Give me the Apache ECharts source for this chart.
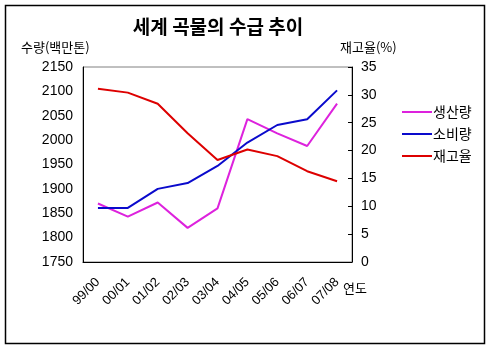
<!DOCTYPE html>
<html><head><meta charset="utf-8">
<script src="https://cdn.jsdelivr.net/npm/echarts@6/dist/echarts.min.js"></script>
<style>html,body{margin:0;padding:0;background:#fff}#c{width:491px;height:350px}</style>
</head><body><div id="c"></div>
<script>
const categories = ['99/00','00/01','01/02','02/03','03/04','04/05','05/06','06/07','07/08'];
const production = [1870, 1843, 1872, 1820, 1860, 2043, 2014, 1988, 2075];
const consumption = [1861, 1861, 1900, 1912, 1947, 1995, 2031, 2043, 2102];
const stockRatio = [31.1, 30.4, 28.4, 23.1, 18.3, 20.2, 19.0, 16.3, 14.5];
const seriesNames = ['생산량', '소비량', '재고율'];
const titleText = '세계 곡물의 수급 추이';
const leftAxisName = '수량(백만톤)';
const rightAxisName = '재고율(%)';
const xAxisName = '연도';

const FONT = '"Liberation Sans", Arial, "Noto Sans CJK KR", sans-serif';
const chart = echarts.init(document.getElementById('c'), null, {renderer:'canvas'});
chart.setOption({
  animation: false,
  backgroundColor: '#fff',
  textStyle: {fontFamily: FONT, color: '#000'},
  grid: {left: 83, top: 67, width: 269, height: 195, show: true, borderColor: '#808080', borderWidth: 1},
  graphic: [
    {type: 'rect', shape: {x: 5.5, y: 5.5, width: 479, height: 338}, style: {fill: 'none', stroke: '#000', lineWidth: 1.5}, silent: true},
    {type: 'text', style: {text: titleText, x: 218, y: 27, align: 'center', verticalAlign: 'middle', font: 'bold 19px "Noto Sans CJK KR", sans-serif', fill: '#000'}},
    {type: 'text', style: {text: leftAxisName, x: 21, y: 47, verticalAlign: 'middle', font: '13px "Noto Sans CJK KR", sans-serif', fill: '#000'}},
    {type: 'text', style: {text: rightAxisName, x: 340, y: 47, verticalAlign: 'middle', font: '13px "Noto Sans CJK KR", sans-serif', fill: '#000'}},
    {type: 'text', style: {text: xAxisName, x: 343, y: 288, verticalAlign: 'middle', font: '13px "Noto Sans CJK KR", sans-serif', fill: '#000'}}
  ],
  legend: {
    orient: 'vertical', left: 397, top: 100, itemWidth: 30, itemHeight: 2, itemGap: 8, icon: 'rect',
    textStyle: {fontSize: 14, fontFamily: '"Noto Sans CJK KR", sans-serif', color: '#000', padding: [0,0,0,-4]},
    data: seriesNames
  },
  xAxis: {
    type: 'category', data: categories, boundaryGap: true,
    axisLine: {lineStyle: {color: '#000', width: 1}},
    axisTick: {inside: true, length: 4, lineStyle: {color: '#000'}},
    axisLabel: {rotate: 45, interval: 0, fontSize: 13, color: '#000', margin: 18, fontFamily: FONT}
  },
  yAxis: [
    {type: 'value', min: 1750, max: 2150, interval: 50, position: 'left',
     axisLine: {show: true, lineStyle: {color: '#000'}}, axisTick: {show: false},
     splitLine: {show: false},
     axisLabel: {fontSize: 14, color: '#000', margin: 10, fontFamily: FONT, formatter: v => String(v)}},
    {type: 'value', min: 0, max: 35, interval: 5, position: 'right',
     axisLine: {show: true, lineStyle: {color: '#000'}}, axisTick: {show: true, inside: true, length: 4, lineStyle: {color: '#000'}},
     splitLine: {show: false},
     axisLabel: {fontSize: 14, color: '#000', margin: 9, fontFamily: FONT}}
  ],
  series: [
    {name: seriesNames[0], type: 'line', data: production, yAxisIndex: 0, symbol: 'none', lineStyle: {width: 2, color: '#dd22dd'}, itemStyle: {color: '#dd22dd'}},
    {name: seriesNames[1], type: 'line', data: consumption, yAxisIndex: 0, symbol: 'none', lineStyle: {width: 2, color: '#0a0acc'}, itemStyle: {color: '#0a0acc'}},
    {name: seriesNames[2], type: 'line', data: stockRatio, yAxisIndex: 1, symbol: 'none', lineStyle: {width: 2, color: '#dd0000'}, itemStyle: {color: '#dd0000'}}
  ]
});
</script></body></html>
